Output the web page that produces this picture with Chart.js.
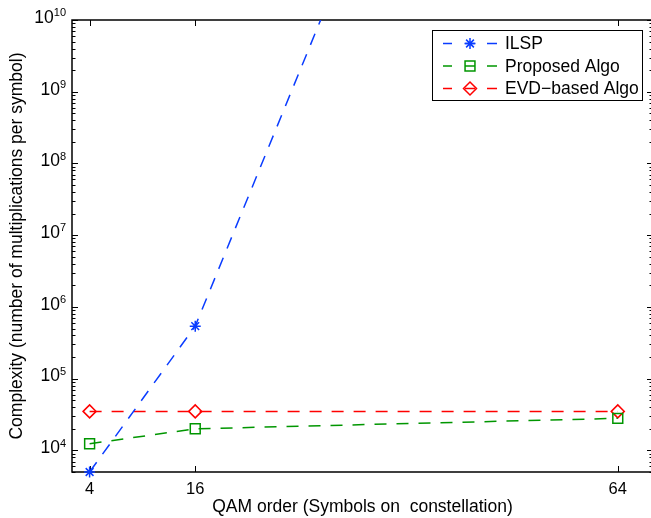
<!DOCTYPE html>
<html>
<head>
<meta charset="utf-8">
<script src="https://cdn.jsdelivr.net/npm/chart.js@4"></script>
<style>
  body { margin: 0; background: #fff; overflow: hidden; }
  canvas { display: block; }
</style>
</head>
<body>
<!-- a bit wider than the window: the right edge of the axes box is cropped off in the original -->
<canvas id="complexityChart" width="653" height="518"></canvas>
<script>
// values
const qamOrder = [4, 16, 64];
const ilsp = [5000, 5.4e5, 1.3e20];
const proposedAlgo = [1.24e4, 2.0e4, 2.8e4];
const evdAlgo = [3.5e4, 3.5e4, 3.5e4];
const xTicks = [4, 16, 64];
const yPowers = [4, 5, 6, 7, 8, 9, 10];

const FONT = '"Liberation Sans", Arial, Helvetica, sans-serif';
const BLUE = "rgb(10, 60, 255)";
const GREEN = "rgb(0, 150, 0)";
const RED = "rgb(255, 0, 0)";

// box, inner ticks and 10^n labels like the matlab axes
const axesBox = {
  id: "axesBox",
  beforeDatasetsDraw(chart) {
    const { ctx, chartArea: a, scales } = chart;
    const x = scales.x, y = scales.y;
    ctx.save();
    ctx.strokeStyle = "#000";
    ctx.lineWidth = 1.5;
    ctx.beginPath();
    ctx.rect(a.left, a.top, a.right - a.left, a.bottom - a.top);
    ctx.stroke();

    ctx.lineWidth = 1;
    ctx.beginPath();
    xTicks.forEach((v) => {
      const px = Math.round(x.getPixelForValue(v)) + 0.5;
      ctx.moveTo(px, a.bottom); ctx.lineTo(px, a.bottom - 6);
      ctx.moveTo(px, a.top); ctx.lineTo(px, a.top + 6);
    });
    for (let d = 3; d <= 10; d++) {
      for (let k = 1; k <= 9; k++) {
        const v = k * Math.pow(10, d);
        if (v < y.min || v > y.max) continue;
        const py = Math.round(y.getPixelForValue(v)) + 0.5;
        const len = k === 1 ? 6 : 3.5;
        ctx.moveTo(a.left, py); ctx.lineTo(a.left + len, py);
        ctx.moveTo(a.right, py); ctx.lineTo(a.right - len, py);
      }
    }
    ctx.stroke();

    ctx.fillStyle = "#000";
    ctx.textAlign = "right";
    ctx.textBaseline = "alphabetic";
    yPowers.forEach((p) => {
      const py = y.getPixelForValue(Math.pow(10, p));
      const exp = String(p);
      ctx.font = "11px " + FONT;
      const ew = ctx.measureText(exp).width;
      ctx.fillText(exp, 66, py - 3.8);
      ctx.font = "17.5px " + FONT;
      ctx.fillText("10", 66 - ew, py + 2.8);
    });
    ctx.restore();
  },
};

// legend with line - marker - line samples
const boxLegend = {
  id: "boxLegend",
  afterDraw(chart) {
    const { ctx } = chart;
    const rows = [43.5, 66, 88.5];
    ctx.save();
    ctx.fillStyle = "#fff";
    ctx.fillRect(432, 30, 210, 70);
    ctx.strokeStyle = "#000";
    ctx.lineWidth = 1;
    ctx.strokeRect(432.5, 30.5, 210, 70);
    chart.data.datasets.forEach((ds, i) => {
      const yy = rows[i];
      ctx.strokeStyle = ds.borderColor;
      ctx.lineWidth = 1.5;
      ctx.beginPath();
      ctx.moveTo(443, yy); ctx.lineTo(452, yy);
      ctx.moveTo(465, yy); ctx.lineTo(475, yy);
      ctx.moveTo(487, yy); ctx.lineTo(497, yy);
      ctx.stroke();
      ctx.fillStyle = "rgba(0,0,0,0)";
      Chart.helpers.drawPoint(ctx, {
        pointStyle: ds.pointStyle,
        radius: ds.pointRadius,
        borderWidth: 1.5,
      }, 470, yy);
      ctx.fillStyle = "#000";
      ctx.font = "17.5px " + FONT;
      ctx.textAlign = "left";
      ctx.textBaseline = "middle";
      ctx.fillText(ds.label, 505, yy + 1);
    });
    ctx.restore();
  },
};

const lineDash = [12, 10];
const clipArea = { left: 8, top: 0, right: 8, bottom: 10 };

const data = {
  datasets: [
    {
      label: "ILSP",
      data: qamOrder.map((q, i) => ({ x: q, y: ilsp[i] })),
      borderColor: BLUE,
      pointStyle: "star",
      pointRadius: 5.5,
    },
    {
      label: "Proposed Algo",
      data: qamOrder.map((q, i) => ({ x: q, y: proposedAlgo[i] })),
      borderColor: GREEN,
      pointStyle: "rect",
      pointRadius: 7,
    },
    {
      label: "EVD\u2212based Algo",
      data: qamOrder.map((q, i) => ({ x: q, y: evdAlgo[i] })),
      borderColor: RED,
      pointStyle: "rectRot",
      pointRadius: 6.5,
    },
  ].map((ds) => ({
    ...ds,
    backgroundColor: "rgba(0,0,0,0)",
    borderWidth: 1.5,
    borderDash: lineDash,
    pointBorderColor: ds.borderColor,
    pointBackgroundColor: "rgba(0,0,0,0)",
    pointBorderWidth: 1.5,
    pointHoverRadius: ds.pointRadius,
    clip: clipArea,
    tension: 0,
  })),
};

const config = {
  type: "line",
  data: data,
  plugins: [axesBox, boxLegend],
  options: {
    responsive: false,
    devicePixelRatio: 1,
    animation: false,
    layout: { autoPadding: false, padding: { top: 20, right: 0, left: 0, bottom: 0 } },
    plugins: {
      legend: { display: false },
      tooltip: { enabled: false },
    },
    scales: {
      x: {
        type: "linear",
        min: 2,
        max: 68,
        grid: { display: false },
        border: { display: false },
        afterBuildTicks: (scale) => {
          scale.ticks = xTicks.map((v) => ({ value: v }));
        },
        afterFit: (scale) => { scale.height = 46; },
        ticks: {
          color: "#000",
          font: { family: FONT, size: 16.5 },
          padding: 0,
          maxRotation: 0,
        },
        title: {
          display: true,
          text: "QAM order (Symbols on  constellation)",
          color: "#000",
          font: { family: FONT, size: 17.5 },
          padding: { top: 0, bottom: 0 },
        },
      },
      y: {
        type: "logarithmic",
        min: 5000,
        max: 1e10,
        grid: { display: false },
        border: { display: false },
        afterBuildTicks: (scale) => {
          scale.ticks = yPowers.map((p) => ({ value: Math.pow(10, p) }));
        },
        afterFit: (scale) => { scale.width = 72; },
        ticks: { display: false },
        title: {
          display: true,
          text: "Complexity (number of multiplications per symbol)",
          color: "#000",
          font: { family: FONT, size: 17.5 },
          padding: { top: 7, bottom: 0 },
        },
      },
    },
  },
};

const complexityChart = new Chart(
  document.getElementById("complexityChart").getContext("2d"),
  config
);
</script>
</body>
</html>
